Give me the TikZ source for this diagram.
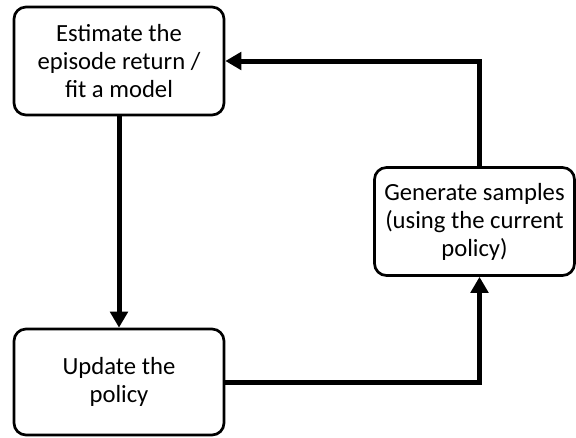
\documentclass[tikz,border=0pt]{standalone}
\usepackage{fontspec}
\setmainfont{Carlito}
\usetikzlibrary{arrows.meta}
\begin{document}
\begin{tikzpicture}[x=0.75pt,y=-0.75pt,
  stage/.style={draw, line width=2pt, rounded corners=9pt, align=center,
    font=\fontsize{18.5}{21}\selectfont, inner sep=0pt},
  flow/.style={line width=3.75pt, -{Triangle[length=12pt,width=13pt]}}]
\useasboundingbox (0,0) rectangle (576,437);
\node[stage, minimum width=210*0.75pt, minimum height=108*0.75pt] (est) at (119,61) {Estimate the\\episode return /\\fit a model};
\node[stage, minimum width=210*0.75pt, minimum height=106*0.75pt] (upd) at (119,382) {Update the\\policy};
\node[stage, minimum width=200*0.75pt, minimum height=108*0.75pt] (gen) at (474.5,221.5) {Generate samples\\(using the current\\policy)};
% the loop runs a little right of the centre line of the sampling box
\coordinate (genbot) at ([xshift=3.75pt]gen.south);
\coordinate (gentop) at ([xshift=3.75pt]gen.north);
\draw[flow] (est.south) -- (upd.north);
\draw[flow] (upd.east) -| (genbot);
\draw[flow] (gentop) |- (est.east);
\end{tikzpicture}
\end{document}
